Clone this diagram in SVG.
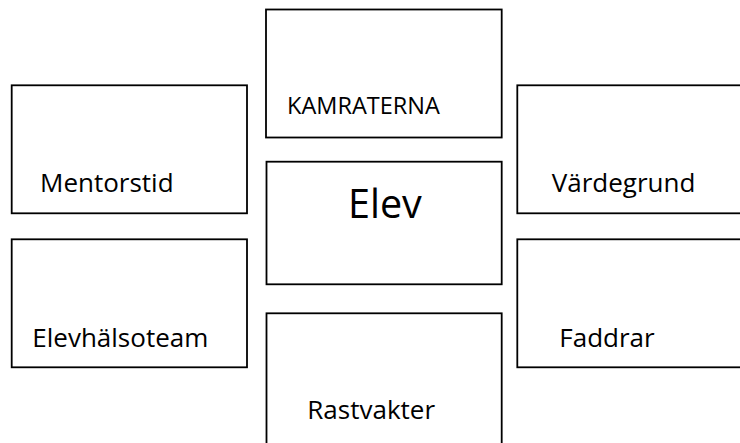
<svg xmlns="http://www.w3.org/2000/svg" width="740" height="443" viewBox="0 0 740 443">
<style>
.box{fill:#fff;stroke:#000;stroke-width:1.8}
.lbl{font-family:"Open Sans","Liberation Sans",sans-serif;font-size:26px;fill:#000}
.small{font-size:23.5px}
.big{font-size:39.5px}
</style>
<rect width="740" height="443" fill="#fff"/>
<g id="connectors"/>
<g id="kamraterna">
<rect class="box" x="266" y="9.5" width="235.7" height="128"/>
<text class="lbl small" x="287" y="114">KAMRATERNA</text>
</g>
<g id="mentorstid">
<rect class="box" x="11.7" y="85.3" width="235.3" height="128"/>
<text class="lbl" x="40" y="191.7">Mentorstid</text>
</g>
<g id="vardegrund">
<rect class="box" x="517.3" y="85.3" width="240" height="128"/>
<text class="lbl" x="551.7" y="191.7">Värdegrund</text>
</g>
<g id="elev">
<rect class="box" x="266.5" y="161.7" width="235.2" height="122.6"/>
<text class="lbl big" x="348" y="218.3">Elev</text>
</g>
<g id="elevhalsoteam">
<rect class="box" x="11.7" y="239.3" width="235.3" height="128"/>
<text class="lbl" x="32.3" y="347">Elevhälsoteam</text>
</g>
<g id="faddrar">
<rect class="box" x="517.3" y="239.3" width="240" height="128"/>
<text class="lbl" x="559.3" y="347">Faddrar</text>
</g>
<g id="rastvakter">
<rect class="box" x="266.5" y="313.3" width="235.2" height="160"/>
<text class="lbl" x="307.3" y="419.3">Rastvakter</text>
</g>
</svg>
